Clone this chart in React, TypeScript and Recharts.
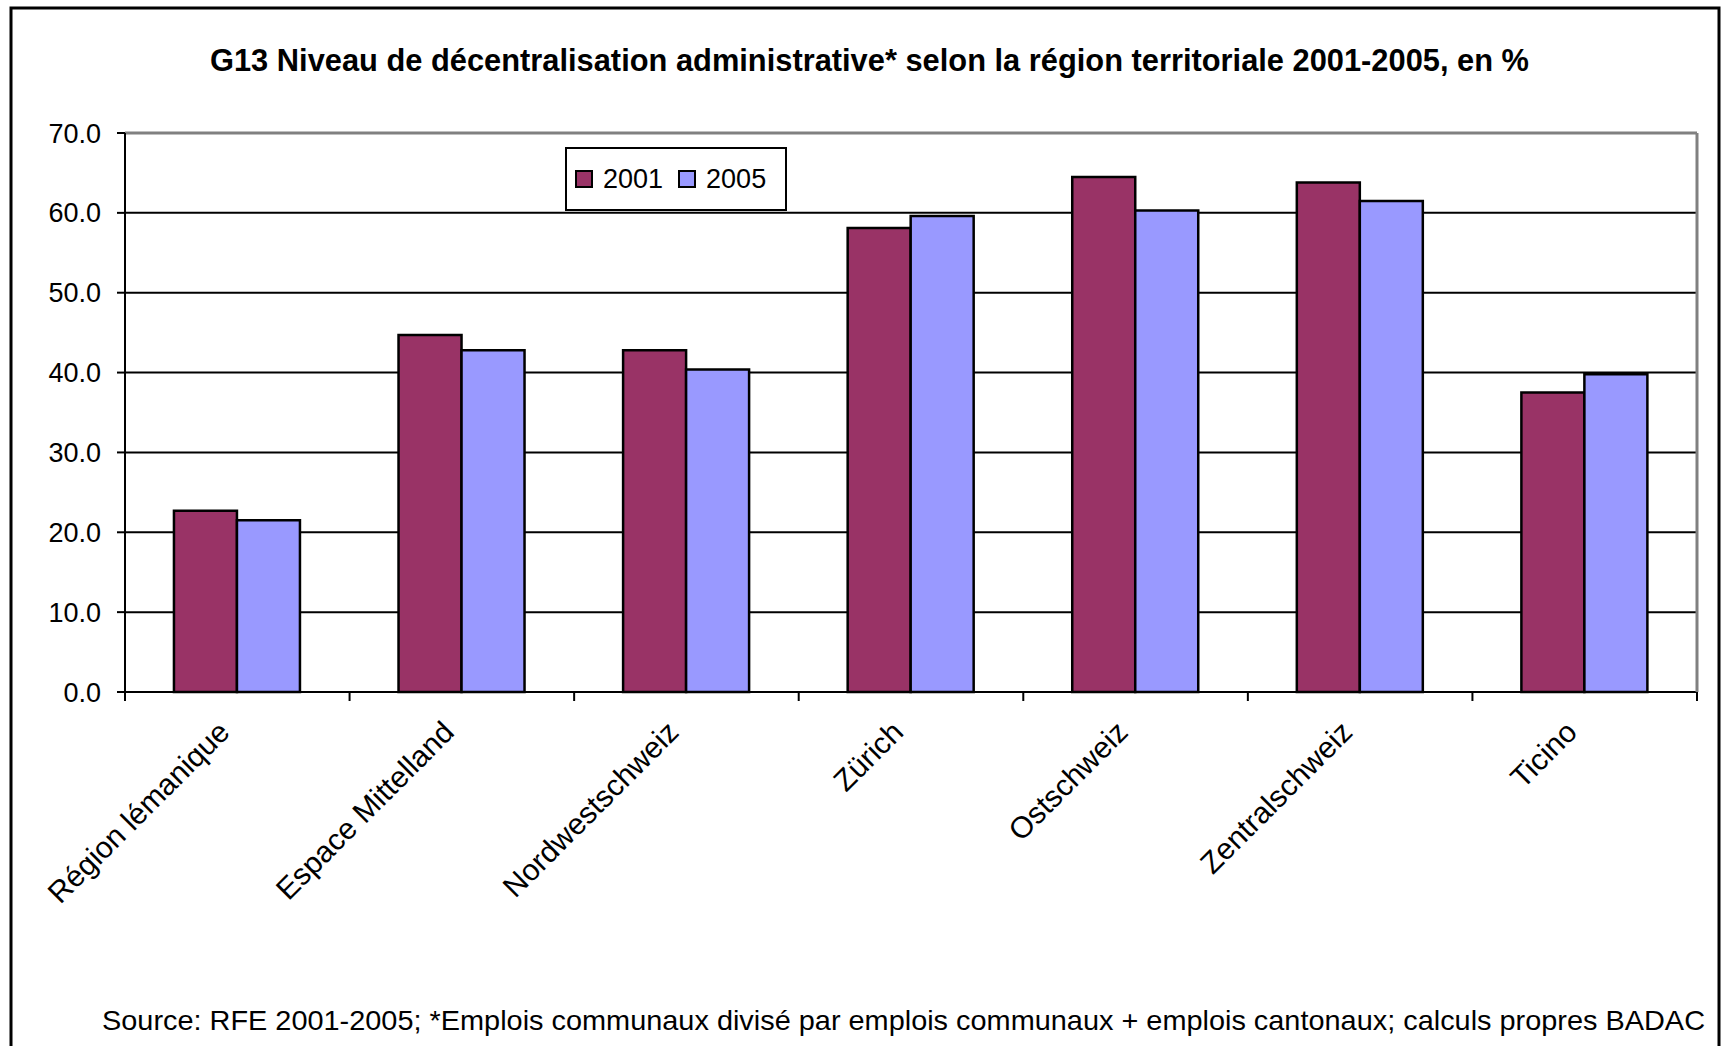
import {
  BarChart,
  Bar,
  XAxis,
  YAxis,
  CartesianGrid,
  ReferenceLine,
  Legend,
} from "recharts";

const categories = [
  "Région lémanique",
  "Espace Mittelland",
  "Nordwestschweiz",
  "Zürich",
  "Ostschweiz",
  "Zentralschweiz",
  "Ticino",
];
const values2001 = [22.7, 44.7, 42.8, 58.1, 64.5, 63.8, 37.5];
const values2005 = [21.5, 42.8, 40.4, 59.6, 60.3, 61.5, 39.8];
const yTicks = [0, 10, 20, 30, 40, 50, 60, 70];
const gridValues = [10, 20, 30, 40, 50, 60];

const W = 1725;
const H = 1046;
const PLOT_LEFT = 125;
const PLOT_RIGHT = 1697;
const PLOT_TOP = 133;
const PLOT_BOTTOM = 692;
const BAND = (PLOT_RIGHT - PLOT_LEFT) / categories.length;

const FONT = "'Liberation Sans', Arial, sans-serif";
const C2001 = "#993366";
const C2005 = "#9999FF";

const data = categories.map((region, i) => ({
  region,
  y2001: values2001[i],
  y2005: values2005[i],
}));

// x labels: rotated, with tick marks between categories (Excel style)
function XTick(props: any) {
  const { x, y, payload, index } = props;
  const left = x - BAND / 2;
  const right = x + BAND / 2;
  const ax = x - 6;
  const ay = y + 42;
  return (
    <g>
      <line x1={left} y1={y} x2={left} y2={y + 9} stroke="#000" strokeWidth={2} />
      {index === categories.length - 1 && (
        <line x1={right} y1={y} x2={right} y2={y + 9} stroke="#000" strokeWidth={2} />
      )}
      <text
        x={ax}
        y={ay}
        transform={`rotate(-45, ${ax}, ${ay})`}
        textAnchor="end"
        fontFamily={FONT}
        fontSize={30}
        fill="#000"
      >
        {payload.value}
      </text>
    </g>
  );
}

function LegendBox() {
  const item = (color: string, label: string) => (
    <div style={{ display: "flex", alignItems: "center" }}>
      <div
        style={{
          width: 14,
          height: 14,
          background: color,
          border: "2px solid #000",
          marginRight: 10,
        }}
      />
      <span style={{ fontFamily: FONT, fontSize: 27, color: "#000" }}>{label}</span>
    </div>
  );
  return (
    <div
      style={{
        width: 210,
        height: 60,
        boxSizing: "content-box",
        border: "2px solid #000",
        background: "#fff",
        display: "flex",
        alignItems: "center",
        gap: 15,
        paddingLeft: 8,
      }}
    >
      {item(C2001, "2001")}
      {item(C2005, "2005")}
    </div>
  );
}

export default function App() {
  return (
    <div
      style={{
        position: "absolute",
        left: 0,
        top: 0,
        width: W,
        height: H,
        background: "#fff",
        overflow: "hidden",
      }}
    >
      <BarChart
        width={W}
        height={H}
        data={data}
        margin={{ top: PLOT_TOP, right: W - PLOT_RIGHT, left: 0, bottom: 0 }}
        barCategoryGap="21.8%"
        barGap={0}
      >
        <CartesianGrid
          horizontal
          vertical={false}
          horizontalValues={gridValues}
          stroke="#000"
          strokeWidth={2}
        />
        <ReferenceLine y={70} stroke="#808080" strokeWidth={3} />
        <XAxis
          dataKey="region"
          height={H - PLOT_BOTTOM}
          interval={0}
          tickLine={false}
          tickSize={0}
          tickMargin={0}
          axisLine={{ stroke: "#000", strokeWidth: 2 }}
          tick={<XTick />}
        />
        <YAxis
          width={PLOT_LEFT}
          domain={[0, 70]}
          ticks={yTicks}
          interval={0}
          tickFormatter={(v: number) => v.toFixed(1)}
          tickSize={8}
          tickMargin={16}
          axisLine={{ stroke: "#000", strokeWidth: 2 }}
          tickLine={{ stroke: "#000", strokeWidth: 2 }}
          tick={{ fontFamily: FONT, fontSize: 27, fill: "#000" }}
        />
        <Legend
          layout="horizontal"
          verticalAlign="middle"
          align="center"
          content={<LegendBox />}
          wrapperStyle={{ left: 565, top: 147, width: "auto", height: "auto" }}
        />
        <Bar
          dataKey="y2001"
          name="2001"
          fill={C2001}
          stroke="#000"
          strokeWidth={2.5}
          isAnimationActive={false}
        />
        <Bar
          dataKey="y2005"
          name="2005"
          fill={C2005}
          stroke="#000"
          strokeWidth={2.5}
          isAnimationActive={false}
        />
      </BarChart>

      {/* frame, title, source */}
      <svg
        width={W}
        height={H}
        style={{ position: "absolute", left: 0, top: 0, pointerEvents: "none" }}
      >
        <line
          x1={PLOT_RIGHT}
          y1={PLOT_TOP}
          x2={PLOT_RIGHT}
          y2={PLOT_BOTTOM}
          stroke="#808080"
          strokeWidth={3}
        />
        <rect
          x={11}
          y={8}
          width={1708}
          height={H + 10}
          fill="none"
          stroke="#000"
          strokeWidth={3}
        />
        <text
          x={210}
          y={71}
          fontFamily={FONT}
          fontWeight="bold"
          fontSize={32}
          textLength={1319}
          lengthAdjust="spacingAndGlyphs"
          fill="#000"
        >
          G13 Niveau de décentralisation administrative* selon la région territoriale 2001-2005, en %
        </text>
        <text
          x={102}
          y={1030}
          fontFamily={FONT}
          fontSize={28}
          textLength={1603}
          lengthAdjust="spacingAndGlyphs"
          fill="#000"
        >
          Source: RFE 2001-2005; *Emplois communaux divisé par emplois communaux + emplois cantonaux; calculs propres BADAC
        </text>
      </svg>
    </div>
  );
}
